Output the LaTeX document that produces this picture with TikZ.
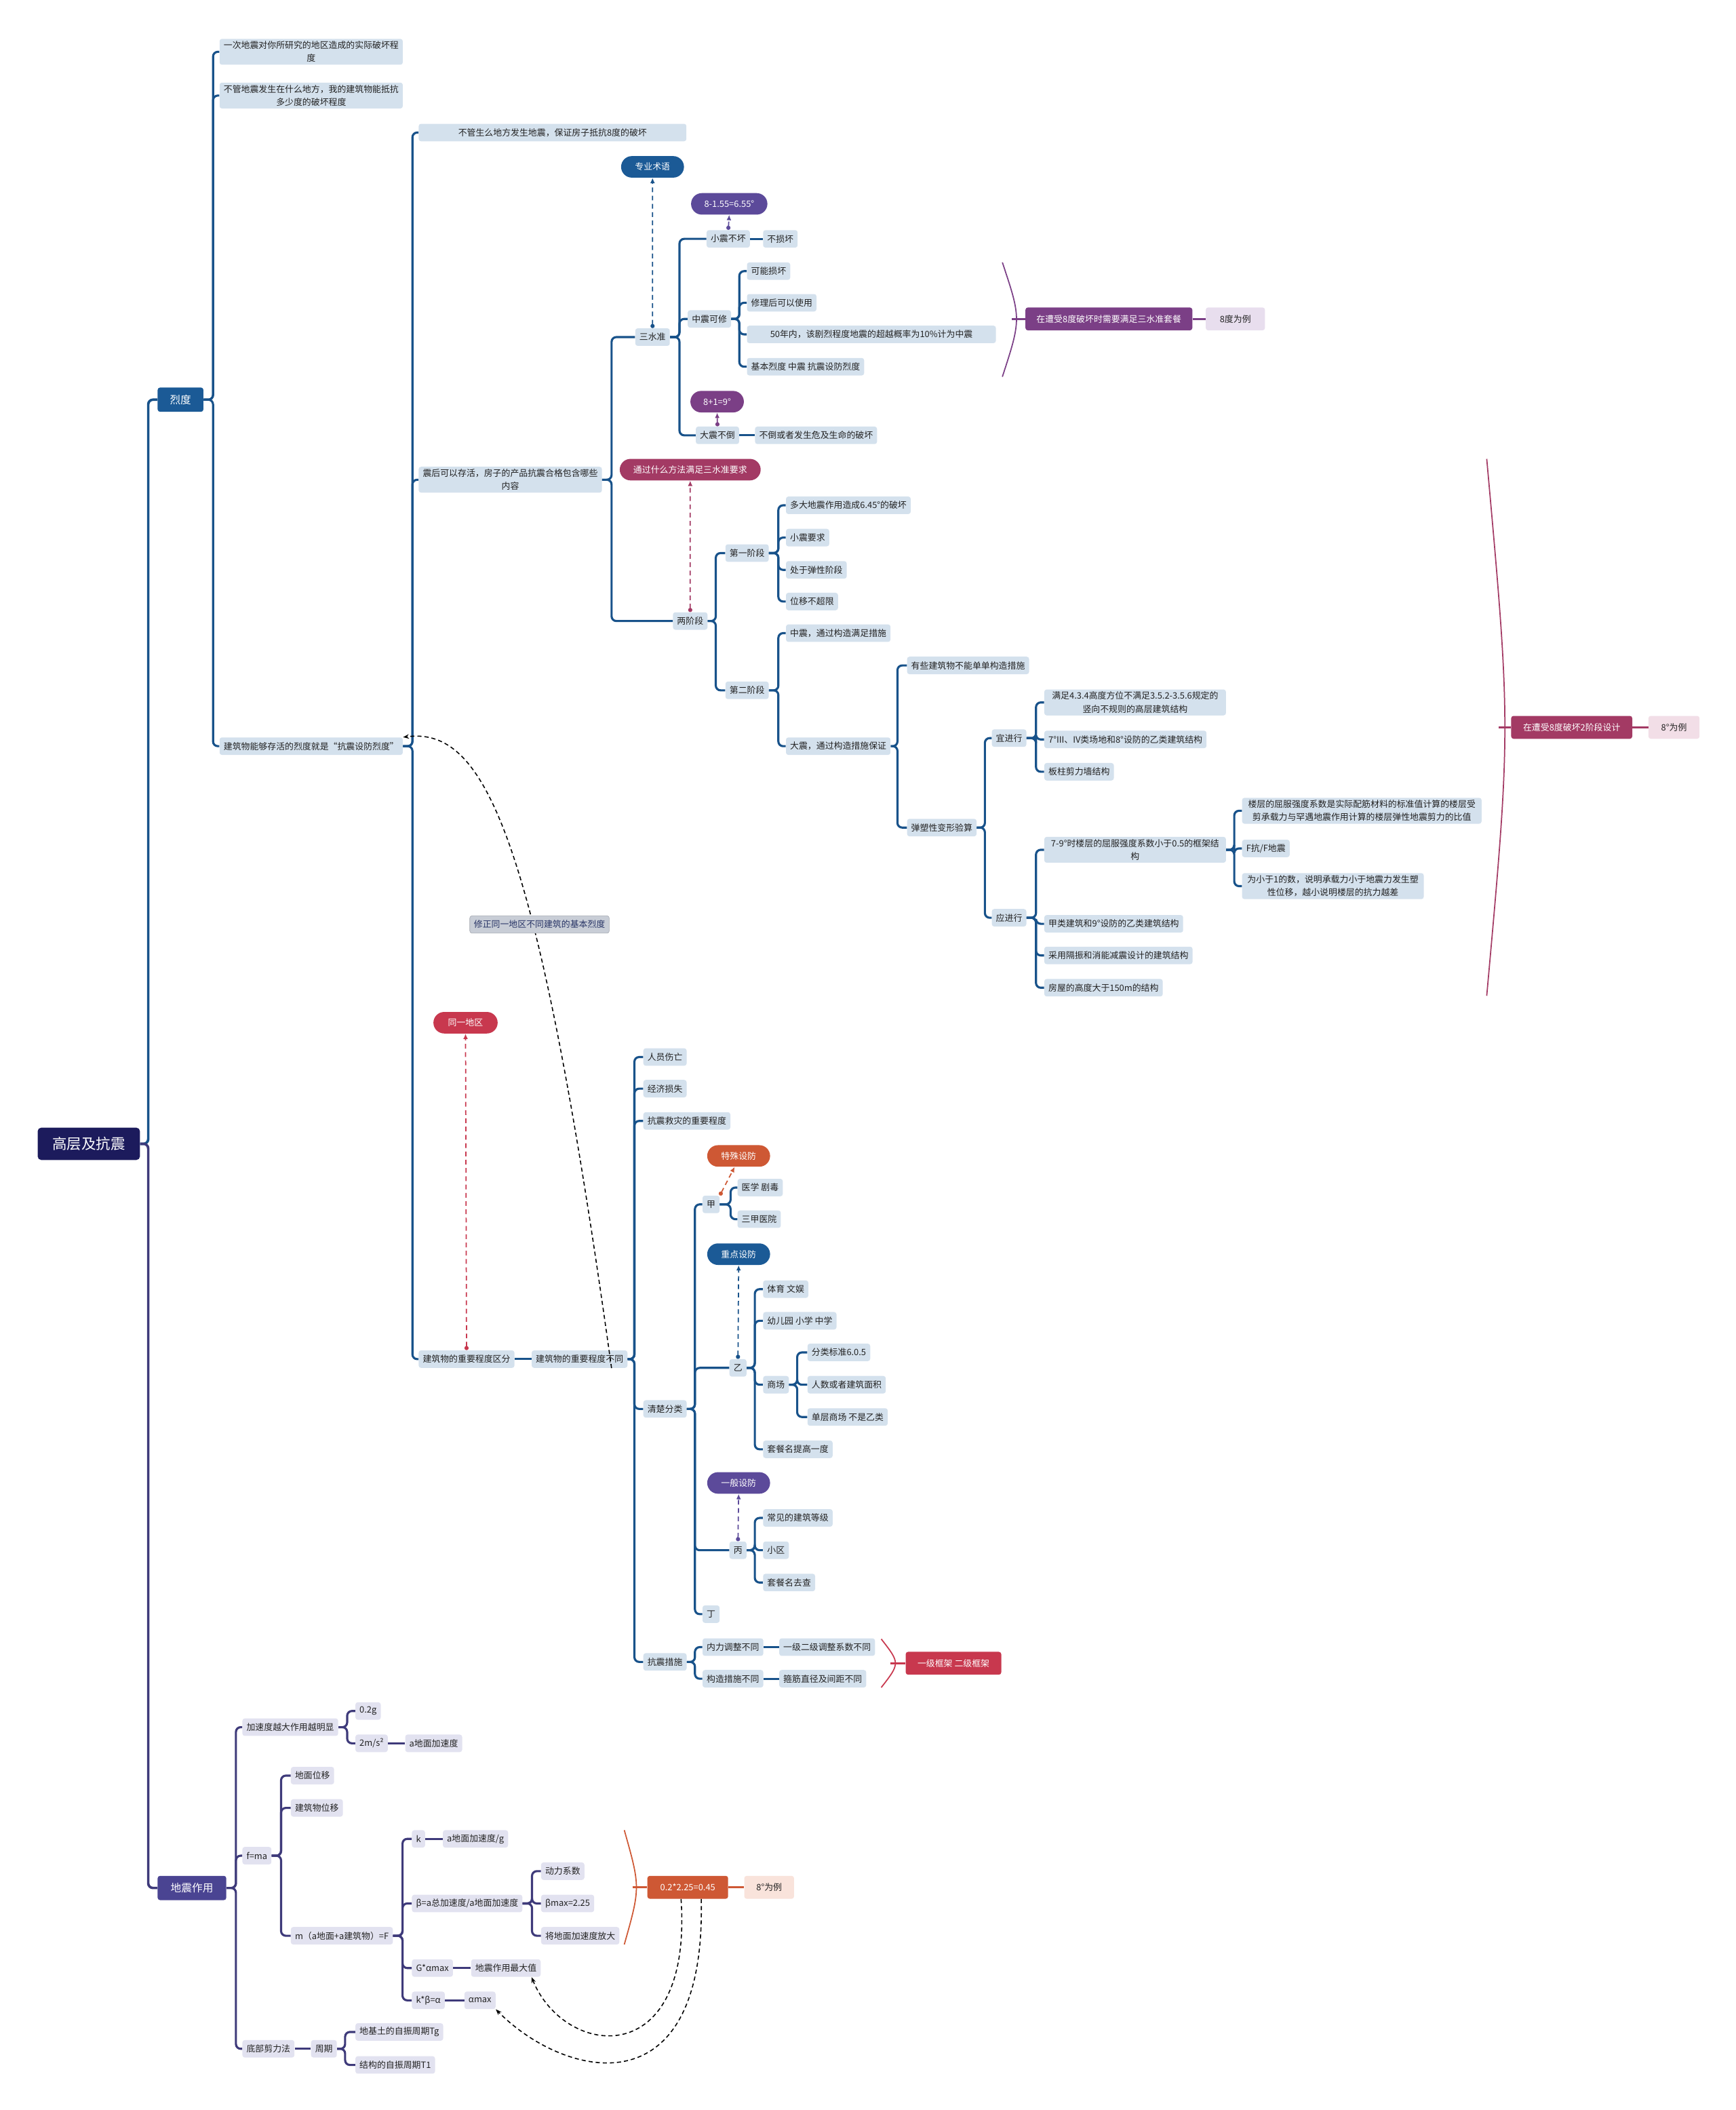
\documentclass[tikz,border=0pt]{standalone}
\usepackage{fontspec}
\setmainfont{Noto Sans CJK SC}
\usetikzlibrary{arrows.meta,calc,shapes.misc}

\definecolor{rootbg}{RGB}{28,27,92}
\definecolor{blueln}{RGB}{24,82,138}
\definecolor{purpln}{RGB}{62,58,122}
\definecolor{bluebox}{RGB}{27,90,150}
\definecolor{purpbox}{RGB}{74,68,146}
\definecolor{leafb}{RGB}{212,225,237}
\definecolor{leafp}{RGB}{226,226,240}
\definecolor{plum}{RGB}{123,63,134}
\definecolor{plumlt}{RGB}{232,222,238}
\definecolor{berry}{RGB}{163,58,100}
\definecolor{berrylt}{RGB}{242,222,231}
\definecolor{redc}{RGB}{200,56,78}
\definecolor{orng}{RGB}{206,88,52}
\definecolor{orngl}{RGB}{249,227,219}
\definecolor{violet}{RGB}{92,74,154}
\definecolor{notebg}{RGB}{200,205,214}
\definecolor{notetx}{RGB}{40,52,102}
\definecolor{leaftx}{RGB}{34,34,34}

\tikzset{
  smallfont/.style={font=\fontsize{7.4}{11}\selectfont},
  rootbox/.style={fill=rootbg, text=white, rounded corners=3pt, minimum width=30.4mm,
    minimum height=9.6mm, font=\fontsize{12.3}{14}\selectfont},
  topbox/.style={anchor=west, fill=#1, text=white, rounded corners=2pt, minimum width=13.6mm,
    minimum height=7.2mm, font=\fontsize{9}{11}\selectfont},
  leaf/.style={anchor=west, fill=leafb, text=leaftx, rounded corners=2pt, inner xsep=3.5pt,
    inner ysep=2pt, minimum height=5.2mm, smallfont, align=center},
  pleaf/.style={leaf, fill=leafp},
  pill/.style={rounded rectangle, fill=#1, text=white, minimum height=6.4mm, inner xsep=3pt, smallfont},
  sumbox/.style={anchor=west, fill=#1, text=white, rounded corners=2pt, minimum height=6.8mm, smallfont},
  exbox/.style={anchor=west, fill=#1, text=leaftx, rounded corners=2pt, minimum height=6.8mm, smallfont},
  note/.style={fill=notebg, text=notetx, draw=notebg!80!black, line width=0.3pt, rounded corners=2pt,
    minimum height=5.2mm, inner xsep=3.5pt, smallfont},
  bline/.style={draw=blueln, line width=1.8pt, rounded corners=4pt},
  pline/.style={draw=purpln, line width=1.8pt, rounded corners=4pt},
  float/.style={draw=#1, line width=1pt, dash pattern=on 4pt off 3pt,
    {Circle[length=3.5pt]}-{Latex[length=4.5pt,width=4pt]}},
  brace/.style={draw=#1, line width=1pt},
  link/.style={draw=black, line width=0.9pt, dash pattern=on 3.5pt off 2.5pt, -{Stealth[length=5pt]}},
}

\begin{document}
\begin{tikzpicture}[x=0.4mm,y=-0.4mm]
\useasboundingbox (0,0) rectangle (1290,1568);

% root and main branches
\node[rootbox] (root) at (66,850) {高层及抗震};
\node[topbox=bluebox] (lie) at (117,297) {烈度};
\node[topbox=purpbox,minimum width=20.4mm] (dzzy) at (117,1403) {地震作用};
\draw[bline,line width=2.1pt] (root.east) -- ++(6,0) |- (lie.west);
\draw[pline,line width=2.1pt] (root.east) -- ++(6,0) |- (dzzy.west);

% 烈度
\node[leaf,minimum width=54mm] (def1) at (163,38.5) {一次地震对你所研究的地区造成的实际破坏程\\度};
\node[leaf,minimum width=54mm] (def2) at (163,71) {不管地震发生在什么地方，我的建筑物能抵抗\\多少度的破坏程度};
\node[leaf,minimum width=54mm] (survive) at (163,554.5) {建筑物能够存活的烈度就是“抗震设防烈度”};
\foreach \c in {def1,def2,survive} \draw[bline] (lie.east) -- ++(7,0) |- (\c.west);

\node[leaf,minimum width=79.6mm] (keep8) at (311,98.5) {不管生么地方发生地震，保证房子抵抗8度的破坏};
\node[leaf,minimum width=54mm] (alive) at (311,356.5) {震后可以存活，房子的产品抗震合格包含哪些\\内容};
\node[leaf] (imp1) at (311,1010) {建筑物的重要程度区分};
\foreach \c in {keep8,alive,imp1} \draw[bline] (survive.east) -- ++(7,0) |- (\c.west);

% 三水准
\node[leaf] (sanshui) at (472,250.5) {三水准};
\node[leaf] (liangjd) at (500,461.5) {两阶段};
\foreach \c in {sanshui,liangjd} \draw[bline] (alive.east) -- ++(7,0) |- (\c.west);
\node[pill=bluebox,minimum width=20.8mm] (term) at (485,124) {专业术语};
\draw[float=blueln] (sanshui.north) -- (term.south);
\node[pill=berry,minimum width=44mm] (way) at (513,349) {通过什么方法满足三水准要求};
\draw[float=berry] (liangjd.north) -- (way.south);

\node[leaf] (xz) at (525,177.5) {小震不坏};
\node[leaf] (zz) at (511,237) {中震可修};
\node[leaf] (dz) at (517,323.5) {大震不倒};
\foreach \c in {xz,zz,dz} \draw[bline] (sanshui.east) -- ++(7,0) |- (\c.west);
\node[leaf] (bsh) at (567,177.5) {不损坏};
\draw[bline] (xz.east) -- (bsh.west);
\node[pill=violet,minimum width=24.8mm] (v655) at (542,151.5) {8-1.55=6.55°};
\draw[float=violet] (xz.north) -- (v655.south);
\node[pill=plum,minimum width=18mm] (v9) at (533,298.5) {8+1=9°};
\draw[float=plum] (dz.north) -- (v9.south);
\node[leaf] (bd) at (561,323.5) {不倒或者发生危及生命的破坏};
\draw[bline] (dz.east) -- (bd.west);

\node[leaf] (zz1) at (555,201.5) {可能损坏};
\node[leaf] (zz2) at (555,225) {修理后可以使用};
\node[leaf,minimum width=74mm] (zz3) at (555,248.5) {50年内，该剧烈程度地震的超越概率为10\%计为中震};
\node[leaf] (zz4) at (555,272.5) {基本烈度 中震 抗震设防烈度};
\foreach \c in {zz1,zz2,zz3,zz4} \draw[bline] (zz.east) -- ++(6,0) |- (\c.west);

\draw[brace=plum] (745,195) .. controls (759,237) .. (745,280);
\coordinate (b1) at (752,237);
\node[sumbox=plum,minimum width=49.6mm] (sum1) at (762,237) {在遭受8度破坏时需要满足三水准套餐};
\node[exbox=plumlt,minimum width=17.6mm] (ex1) at (896,237) {8度为例};
\draw[plum,line width=1.6pt] (b1) -- (sum1.west);
\draw[plum,line width=1.6pt] (sum1.east) -- (ex1.west);

% 两阶段
\node[leaf] (s1) at (539,411) {第一阶段};
\node[leaf] (s2) at (539,513) {第二阶段};
\foreach \c in {s1,s2} \draw[bline] (liangjd.east) -- ++(6,0) |- (\c.west);
\node[leaf] (s11) at (584,375.5) {多大地震作用造成6.45°的破坏};
\node[leaf] (s12) at (584,399.5) {小震要求};
\node[leaf] (s13) at (584,423.5) {处于弹性阶段};
\node[leaf] (s14) at (584,447) {位移不超限};
\foreach \c in {s11,s12,s13,s14} \draw[bline] (s1.east) -- ++(7,0) |- (\c.west);
\node[leaf] (s21) at (584,470.5) {中震，通过构造满足措施};
\node[leaf] (s22) at (584,554.5) {大震，通过构造措施保证};
\foreach \c in {s21,s22} \draw[bline] (s2.east) -- ++(7,0) |- (\c.west);
\node[leaf] (s221) at (674,494.5) {有些建筑物不能单单构造措施};
\node[leaf] (s222) at (674,615) {弹塑性变形验算};
\foreach \c in {s221,s222} \draw[bline] (s22.east) -- ++(5,0) |- (\c.west);
\node[leaf] (yijx) at (737,548.5) {宜进行};
\node[leaf] (yingjx) at (737,682) {应进行};
\foreach \c in {yijx,yingjx} \draw[bline] (s222.east) -- ++(6,0) |- (\c.west);
\node[leaf,minimum width=54mm] (yi1) at (776,522) {满足4.3.4高度方位不满足3.5.2-3.5.6规定的\\竖向不规则的高层建筑结构};
\node[leaf] (yi2) at (776,549.5) {7°III、IV类场地和8°设防的乙类建筑结构};
\node[leaf] (yi3) at (776,573.5) {板柱剪力墙结构};
\foreach \c in {yi1,yi2,yi3} \draw[bline] (yijx.east) -- ++(7,0) |- (\c.west);
\node[leaf,minimum width=54mm] (ying1) at (776,631.5) {7-9°时楼层的屈服强度系数小于0.5的框架结\\构};
\node[leaf] (ying2) at (776,686.5) {甲类建筑和9°设防的乙类建筑结构};
\node[leaf] (ying3) at (776,710) {采用隔振和消能减震设计的建筑结构};
\node[leaf] (ying4) at (776,734) {房屋的高度大于150m的结构};
\foreach \c in {ying1,ying2,ying3,ying4} \draw[bline] (yingjx.east) -- ++(7,0) |- (\c.west);
\node[leaf,minimum width=71.2mm] (q1) at (923,602.5) {楼层的屈服强度系数是实际配筋材料的标准值计算的楼层受\\剪承载力与罕遇地震作用计算的楼层弹性地震剪力的比值};
\node[leaf] (q2) at (923,630.5) {F抗/F地震};
\node[leaf,minimum width=54mm] (q3) at (923,658.5) {为小于1的数，说明承载力小于地震力发生塑\\性位移，越小说明楼层的抗力越差};
\foreach \c in {q1,q2,q3} \draw[bline] (ying1.east) -- ++(6,0) |- (\c.west);

\draw[brace=berry] (1105,341) .. controls (1123,540.5) .. (1105,740);
\coordinate (b2) at (1114,540.5);
\node[sumbox=berry,minimum width=36mm] (sum2) at (1123,540.5) {在遭受8度破坏2阶段设计};
\node[exbox=berrylt,minimum width=15.2mm] (ex2) at (1225,540.5) {8°为例};
\draw[berry,line width=1.6pt] (b2) -- (sum2.west);
\draw[berry,line width=1.6pt] (sum2.east) -- (ex2.west);

% 重要程度
\node[leaf] (imp2) at (395,1010) {建筑物的重要程度不同};
\draw[bline] (imp1.east) -- (imp2.west);
\node[pill=redc,minimum width=21.2mm] (same) at (346,760) {同一地区};
\draw[float=redc] (imp1.north) -- (same.south);
\draw[link] ($(imp2.south east)+(-12,0)$) .. controls (399,617) and (360,540) .. (survive.north east);
\node[note] (fix) at (401,687) {修正同一地区不同建筑的基本烈度};

\node[leaf] (c1) at (478,785.5) {人员伤亡};
\node[leaf] (c2) at (478,809) {经济损失};
\node[leaf] (c3) at (478,833) {抗震救灾的重要程度};
\node[leaf] (cls) at (478,1047) {清楚分类};
\node[leaf] (kzcs) at (478,1235) {抗震措施};
\foreach \c in {c1,c2,c3,cls,kzcs} \draw[bline] (imp2.east) -- ++(5,0) |- (\c.west);

\node[leaf] (jia) at (522,895) {甲};
\node[leaf] (yib) at (542,1016.5) {乙};
\node[leaf] (bing) at (542,1152) {丙};
\node[leaf] (ding) at (522,1199.5) {丁};
\foreach \c in {jia,yib,bing,ding} \draw[bline] (cls.east) -- ++(6,0) |- (\c.west);

\node[pill=orng,minimum width=20.8mm] (tsfs) at (549,859) {特殊设防};
\draw[float=orng] (jia.north east) -- (tsfs.250);
\node[leaf] (jia1) at (548,882.5) {医学 剧毒};
\node[leaf] (jia2) at (548,906) {三甲医院};
\foreach \c in {jia1,jia2} \draw[bline] (jia.east) -- ++(8,0) |- (\c.west);

\node[pill=bluebox,minimum width=20.8mm] (zdsf) at (549,932) {重点设防};
\draw[float=blueln] (yib.north) -- (zdsf.south);
\node[leaf] (yb1) at (567,958) {体育 文娱};
\node[leaf] (yb2) at (567,981.5) {幼儿园 小学 中学};
\node[leaf] (mall) at (567,1029) {商场};
\node[leaf] (yb4) at (567,1077) {套餐名提高一度};
\foreach \c in {yb1,yb2,mall,yb4} \draw[bline] (yib.east) -- ++(6,0) |- (\c.west);
\node[leaf] (m1) at (600,1005) {分类标准6.0.5};
\node[leaf] (m2) at (600,1029) {人数或者建筑面积};
\node[leaf] (m3) at (600,1053) {单层商场 不是乙类};
\foreach \c in {m1,m2,m3} \draw[bline] (mall.east) -- ++(6,0) |- (\c.west);

\node[pill=violet,minimum width=20.8mm] (ybsf) at (549,1102) {一般设防};
\draw[float=violet] (bing.north) -- (ybsf.south);
\node[leaf] (bg1) at (567,1128) {常见的建筑等级};
\node[leaf] (bg2) at (567,1152) {小区};
\node[leaf] (bg3) at (567,1176) {套餐名去查};
\foreach \c in {bg1,bg2,bg3} \draw[bline] (bing.east) -- ++(6,0) |- (\c.west);

\node[leaf] (nl) at (522,1224) {内力调整不同};
\node[leaf] (gz) at (522,1247.5) {构造措施不同};
\foreach \c in {nl,gz} \draw[bline] (kzcs.east) -- ++(6,0) |- (\c.west);
\node[leaf] (nl2) at (579,1224) {一级二级调整系数不同};
\node[leaf] (gz2) at (579,1247.5) {箍筋直径及间距不同};
\draw[bline] (nl.east) -- (nl2.west);
\draw[bline] (gz.east) -- (gz2.west);
\draw[brace=redc] (655,1218) .. controls (669,1236) .. (655,1254);
\coordinate (b3) at (662,1236);
\node[sumbox=redc,minimum width=28.4mm] (sum3) at (673,1236) {一级框架 二级框架};
\draw[redc,line width=1.6pt] (b3) -- (sum3.west);

% 地震作用
\node[pleaf] (acc) at (180,1283.5) {加速度越大作用越明显};
\node[pleaf] (fma) at (180,1379) {f=ma};
\node[pleaf] (dbj) at (180,1522.5) {底部剪力法};
\foreach \c in {acc,fma,dbj} \draw[pline] (dzzy.east) -- ++(7,0) |- (\c.west);
\node[pleaf] (g02) at (264,1271.5) {0.2g};
\node[pleaf] (ms2) at (264,1295.5) {2m/s²};
\foreach \c in {g02,ms2} \draw[pline] (acc.east) -- ++(6.5,0) |- (\c.west);
\node[pleaf] (agr) at (301,1295.5) {a地面加速度};
\draw[pline] (ms2.east) -- (agr.west);

\node[pleaf] (dmwy) at (216,1319.5) {地面位移};
\node[pleaf] (jzwy) at (216,1343.5) {建筑物位移};
\node[pleaf] (mF) at (216,1438.5) {m（a地面+a建筑物）=F};
\foreach \c in {dmwy,jzwy,mF} \draw[pline] (fma.east) -- ++(7,0) |- (\c.west);
\node[pleaf] (kk) at (306,1366.5) {k};
\node[pleaf] (beta) at (306,1414.5) {β=a总加速度/a地面加速度};
\node[pleaf] (gam) at (306,1462.5) {G*αmax};
\node[pleaf] (kba) at (306,1486.5) {k*β=α};
\foreach \c in {kk,beta,gam,kba} \draw[pline] (mF.east) -- ++(7,0) |- (\c.west);
\node[pleaf] (kg) at (329,1366.5) {a地面加速度/g};
\draw[pline] (kk.east) -- (kg.west);
\node[pleaf] (dl) at (402,1390.5) {动力系数};
\node[pleaf] (bmax) at (402,1414.5) {βmax=2.25};
\node[pleaf,minimum width=23.2mm] (fd) at (402,1438.5) {将地面加速度放大};
\foreach \c in {dl,bmax,fd} \draw[pline] (beta.east) -- ++(7,0) |- (\c.west);
\node[pleaf] (gmv) at (350,1462.5) {地震作用最大值};
\draw[pline] (gam.east) -- (gmv.west);
\node[pleaf] (amax) at (345,1486.5) {αmax};
\draw[pline] (kba.east) -- (amax.west);

\draw[brace=orng] (464,1360) .. controls (476,1402.5) .. (464,1445);
\coordinate (b4) at (470,1402.5);
\node[sumbox=orng,minimum width=24mm] (sum4) at (481,1402.5) {0.2*2.25=0.45};
\node[exbox=orngl,minimum width=14.8mm] (ex4) at (553,1402.5) {8°为例};
\draw[orng,line width=1.6pt] (b4) -- (sum4.west);
\draw[orng,line width=1.6pt] (sum4.east) -- (ex4.west);
\draw[link] ($(sum4.south)+(-5,0)$) .. controls (515,1540) and (420,1530) .. ($(gmv.south east)+(-7,0)$);
\draw[link] ($(sum4.south)+(10,0)$) .. controls (525,1570) and (420,1545) .. (amax.south east);

\node[pleaf] (zq) at (231,1522.5) {周期};
\draw[pline] (dbj.east) -- (zq.west);
\node[pleaf] (tg) at (264,1510) {地基土的自振周期Tg};
\node[pleaf] (t1) at (264,1534.5) {结构的自振周期T1};
\foreach \c in {tg,t1} \draw[pline] (zq.east) -- ++(6,0) |- (\c.west);
\end{tikzpicture}
\end{document}
